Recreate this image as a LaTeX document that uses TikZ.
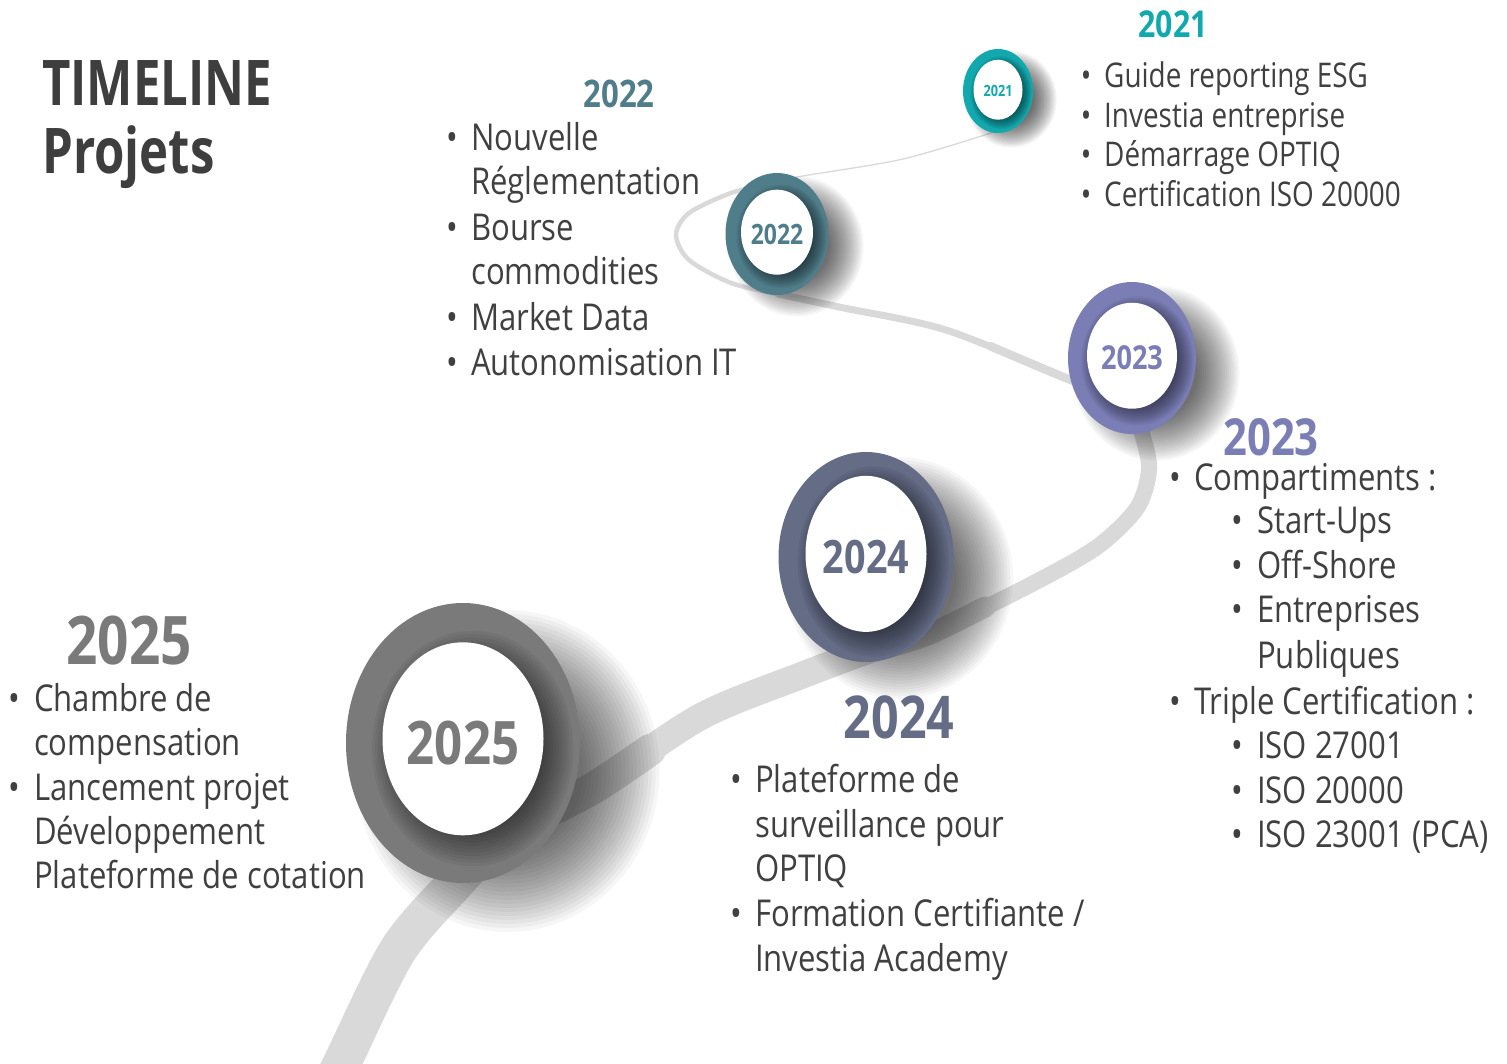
\documentclass[tikz,border=0pt]{standalone}
\usepackage{fontspec}
\setmainfont{Open Sans}[FakeStretch=0.82]
\newfontfamily\listfont{Open Sans}[FakeStretch=0.84]
\newfontfamily\titlefont{Open Sans}[FakeStretch=0.78]
\definecolor{txtgray}{HTML}{404040}
\definecolor{titlegray}{HTML}{3E3E3E}
\definecolor{cA}{HTML}{12A9AE}
\definecolor{cB}{HTML}{4F7D8A}
\definecolor{cC}{HTML}{7A7EB5}
\definecolor{cD}{HTML}{646C86}
\definecolor{cE}{HTML}{7A7A7A}
\definecolor{road}{HTML}{D9D9D9}
\tikzset{
  txtsmall/.style={anchor=base west, inner sep=0pt, font=\fontsize{34}{40}\selectfont, text=txtgray},
  bulsmall/.style={anchor=base, inner sep=0pt, font=\fontsize{34}{40}\selectfont, text=txtgray},
  txt/.style={anchor=base west, inner sep=0pt, font=\listfont\fontsize{37}{44}\selectfont, text=txtgray},
  bul/.style={anchor=base, inner sep=0pt, font=\listfont\fontsize{37}{44}\selectfont, text=txtgray},
  yearhead/.style={anchor=center, inner sep=0pt, font=\bfseries\fontsize{#1}{#1}\selectfont},
  titletxt/.style={anchor=base west, inner sep=0pt, font=\titlefont\bfseries\fontsize{63}{70}\selectfont, text=titlegray},
  roadline/.style={draw=road, line cap=round, line join=round}
}
% soft shadow: #1 cx, #2 cy, #3 rx, #4 ry, #5 steps, #6 opacity per step, #7 smallest factor
\newcommand\softshadow[7]{%
  \foreach \k in {0,...,#5}{%
    \fill[black, opacity=#6] (#1,#2) ellipse [x radius={(1-(1-#7)*\k/#5)*#3pt}, y radius={(1-(1-#7)*\k/#5)*#4pt}];
  }%
}
% #1 cx, #2 cy, #3 rx, #4 ry, #5 inner rx, #6 inner ry, #7 colour, #8 font size, #9 label
\newcommand\yearring[9]{%
  \softshadow{#1+0.38*#3}{#2+0.2*#4}{1.3*#3}{1.15*#4}{20}{0.037}{0.5}
  \fill[#7] (#1,#2) ellipse [x radius={#3pt}, y radius={#4pt}];
  \softshadow{#1+0.12*#5}{#2+0.1*#6-0.03*#4}{1.25*#5}{1.22*#6}{14}{0.05}{0.6}
  \fill[white] (#1,{#2-0.03*#4}) ellipse [x radius={#5pt}, y radius={#6pt}];
  \node[yearhead=#8, text=#7] (lab#9) at (#1,#2) {#9};
}
\begin{document}
\begin{tikzpicture}[x=1pt,y=-1pt]
\useasboundingbox (0,0) rectangle (1507,1063);
\fill[white] (0,0) rectangle (1507,1063);

% ---- road ----
\draw[roadline, line width=38pt, line cap=butt] plot[smooth] coordinates {(326,1095) (342,1063) (398,950) (458,880) (495,840)};
\draw[roadline, line width=27pt] plot[smooth] coordinates {(520,825) (590,790) (700,717) (800,676) (885,644)};
\draw[roadline, line width=32pt] plot[smooth] coordinates {(520,825) (590,790) (650,750)};
\draw[roadline, line width=16pt] plot[smooth] coordinates {(890,647) (930,634) (1030,585) (1097,547) (1137,508) (1149,470) (1143,437) (1130,400)};
\draw[roadline, line width=21pt] plot[smooth] coordinates {(890,647) (930,634) (985,607)};
\draw[roadline, line width=7pt] plot[smooth] coordinates {(1110,392) (1071,380) (946,330) (839,307) (778,294)};
\draw[roadline, line width=8.5pt] plot[smooth] coordinates {(1110,392) (1071,380) (990,346)};
\draw[roadline, line width=4.5pt] plot[smooth] coordinates {(778,294) (731,283) (689,260) (676,235) (689,213) (731,193) (770,184)};
\draw[roadline, line width=1.3pt] plot[smooth] coordinates {(760,186) (797,177) (903,159) (997,131)};

% ---- circles ----
\yearring{998}{91}{35}{42}{24.5}{30}{cA}{15.5}{2021}
\yearring{777}{234}{51.5}{61}{36}{42.5}{cB}{28}{2022}
\yearring{1132}{358}{64}{76}{45}{53}{cC}{33}{2023}
\yearring{866}{557}{87.5}{105}{60.5}{78}{cD}{46}{2024}
\yearring{463}{743}{117}{140}{80.5}{96.5}{cE}{60}{2025}

% ---- title ----
\node[titletxt] (t1) at (42,105) {TIMELINE};
\node[titletxt] (t2) at (42,173) {Projets};

% ---- 2021 ----
\node[yearhead=37, text=cA] (h21) at (1173,24) {2021};
\node[bulsmall] (b21a) at (1086,87) {•};  \node[txtsmall] (l21a) at (1104,87) {Guide reporting ESG};
\node[bulsmall] (b21b) at (1086,127) {•}; \node[txtsmall] (l21b) at (1104,127) {Investia entreprise};
\node[bulsmall] (b21c) at (1086,166) {•}; \node[txtsmall] (l21c) at (1104,166) {Démarrage OPTIQ};
\node[bulsmall] (b21d) at (1086,206) {•}; \node[txtsmall] (l21d) at (1104,206) {Certification ISO 20000};

% ---- 2022 ----
\node[yearhead=38, text=cB] (h22) at (619,94) {2022};
\node[bul] (b22a) at (452,150) {•}; \node[txt] (l22a) at (471,150) {Nouvelle};
\node[txt] (l22b) at (471,194) {Réglementation};
\node[bul] (b22c) at (452,240) {•}; \node[txt] (l22c) at (471,240) {Bourse};
\node[txt] (l22d) at (471,284) {commodities};
\node[bul] (b22e) at (452,330) {•}; \node[txt] (l22e) at (471,330) {Market Data};
\node[bul] (b22f) at (452,375) {•}; \node[txt] (l22f) at (471,375) {Autonomisation IT};

% ---- 2023 ----
\node[yearhead=51, text=cC] (h23) at (1271,437) {2023};
\node[bul] (b23a) at (1175,490) {•}; \node[txt] (l23a) at (1194,490) {Compartiments :};
\node[bul] (b23b) at (1237,533) {•}; \node[txt] (l23b) at (1257,533) {Start-Ups};
\node[bul] (b23c) at (1237,578) {•}; \node[txt] (l23c) at (1257,578) {Off-Shore};
\node[bul] (b23d) at (1237,622) {•}; \node[txt] (l23d) at (1257,622) {Entreprises};
\node[txt] (l23e) at (1257,668) {Publiques};
\node[bul] (b23f) at (1175,714) {•}; \node[txt] (l23f) at (1194,714) {Triple Certification :};
\node[bul] (b23g) at (1237,758) {•}; \node[txt] (l23g) at (1257,758) {ISO 27001};
\node[bul] (b23h) at (1237,803) {•}; \node[txt] (l23h) at (1257,803) {ISO 20000};
\node[bul] (b23i) at (1237,847) {•}; \node[txt] (l23i) at (1257,847) {ISO 23001 (PCA)};

% ---- 2024 ----
\node[yearhead=59, text=cD] (h24) at (899,717) {2024};
\node[bul] (b24a) at (736,792) {•}; \node[txt] (l24a) at (755,792) {Plateforme de};
\node[txt] (l24b) at (755,837) {surveillance pour};
\node[txt] (l24c) at (755,881) {OPTIQ};
\node[bul] (b24d) at (736,926) {•}; \node[txt] (l24d) at (755,926) {Formation Certifiante /};
\node[txt] (l24e) at (755,971) {Investia Academy};

% ---- 2025 ----
\node[yearhead=67, text=cE] (h25) at (129,641) {2025};
\node[bul] (b25a) at (14,711) {•}; \node[txt] (l25a) at (34,711) {Chambre de};
\node[txt] (l25b) at (34,755) {compensation};
\node[bul] (b25c) at (14,800) {•}; \node[txt] (l25c) at (34,800) {Lancement projet};
\node[txt] (l25d) at (34,844) {Développement};
\node[txt] (l25e) at (34,888) {Plateforme de cotation};
\end{tikzpicture}
\end{document}
